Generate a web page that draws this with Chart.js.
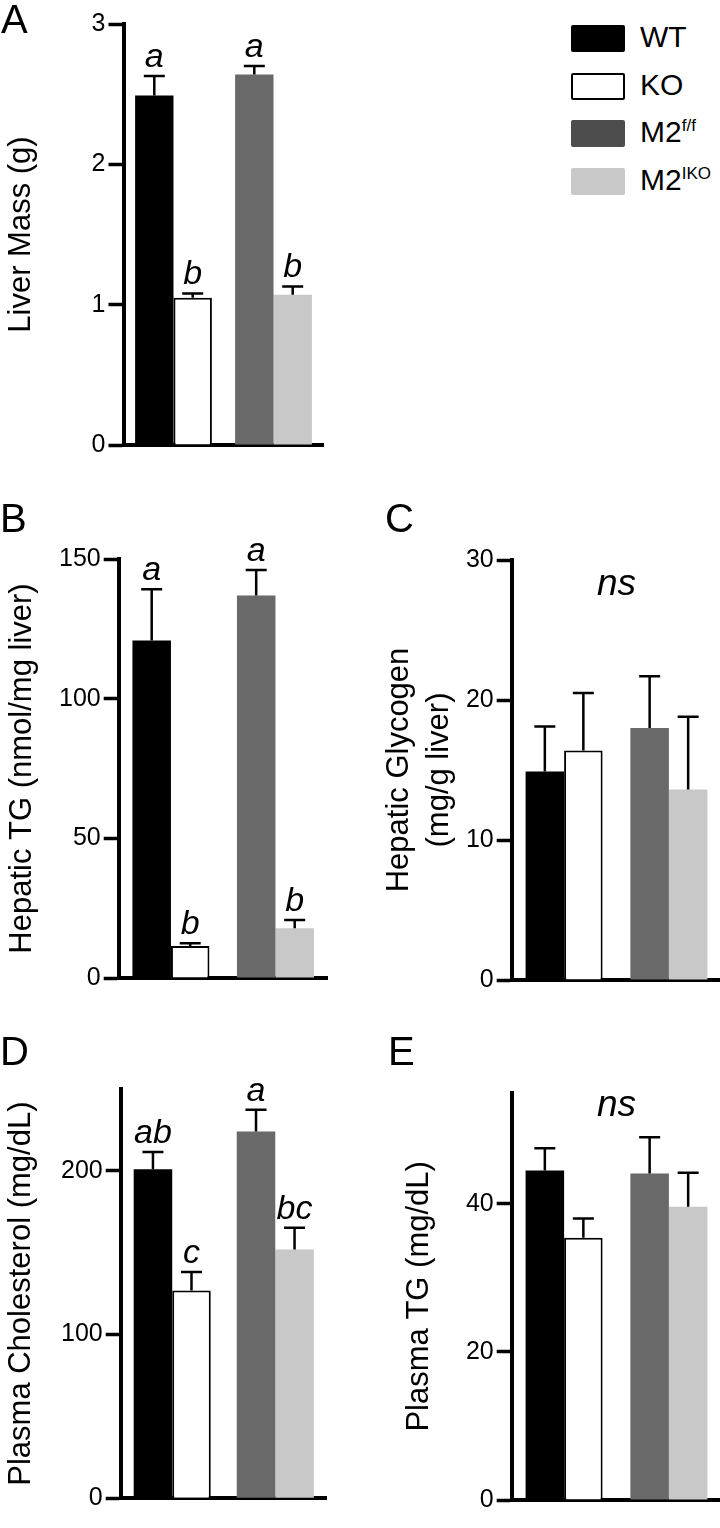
<!DOCTYPE html>
<html>
<head>
<meta charset="utf-8">
<script src="https://cdn.jsdelivr.net/npm/chart.js@4/dist/chart.umd.min.js"></script>
<style>
  html, body { margin: 0; padding: 0; background: #fff; }
  body { width: 720px; height: 1528px; position: relative; overflow: hidden;
         font-family: "Liberation Sans", Arial, sans-serif; color: #000; }
  canvas { position: absolute; }
  .tag { position: absolute; font-size: 40px; line-height: 40px; }
  .item { position: absolute; left: 571px; width: 149px; height: 30px; }
  .box { position: absolute; left: 0; top: 0; width: 54px; height: 27px; box-sizing: border-box; border-radius: 2px; }
  .txt { position: absolute; left: 69px; top: -3px; font-size: 30px; line-height: 30px; white-space: nowrap; }
  .txt sup { font-size: 17px; line-height: 17px; vertical-align: top; }
</style>
</head>
<body>
<canvas id="chartA" width="360" height="470" style="left:0;top:0"></canvas>
<canvas id="chartB" width="360" height="520" style="left:0;top:470px"></canvas>
<canvas id="chartC" width="370" height="520" style="left:360px;top:470px"></canvas>
<canvas id="chartD" width="360" height="538" style="left:0;top:990px"></canvas>
<canvas id="chartE" width="370" height="538" style="left:360px;top:990px"></canvas>

<div class="tag" style="left:1px;top:-1px">A</div>
<div class="tag" style="left:0;top:498px">B</div>
<div class="tag" style="left:385px;top:498px">C</div>
<div class="tag" style="left:0;top:1031px">D</div>
<div class="tag" style="left:388px;top:1031px">E</div>
<div id="legend"></div>

<script>
// groups and cohorts
const genotypes = ['WT', 'KO', 'M2f/f', 'M2IKO'];
const legendBase = ['WT', 'KO', 'M2', 'M2'];
const legendSup = ['', '', 'f/f', 'IKO'];
const cohorts = ['WT / KO', 'M2f/f / M2IKO'];
const cohortOf = [0, 0, 1, 1];

const barColors = ['#000000', '#ffffff', '#696969', '#c8c8c8'];
const legendColors = ['#000000', '#ffffff', '#4d4d4d', '#c8c8c8'];

// A: liver mass (g)
const liverMass = [2.49, 1.05, 2.64, 1.07];
const liverMassErr = [0.14, 0.03, 0.06, 0.06];
const liverMassSig = ['a', 'b', 'a', 'b'];
const liverMassTicks = [0, 1, 2, 3];

// B: hepatic TG (nmol/mg liver)
const hepaticTG = [120.8, 11.5, 136.9, 17.8];
const hepaticTGErr = [18.4, 0.9, 9.2, 3.0];
const hepaticTGSig = ['a', 'b', 'a', 'b'];
const hepaticTGTicks = [0, 50, 100, 150];

// C: hepatic glycogen (mg/g liver)
const glycogen = [14.9, 16.4, 18.0, 13.6];
const glycogenErr = [3.2, 4.1, 3.7, 5.2];
const glycogenTicks = [0, 10, 20, 30];

// D: plasma cholesterol (mg/dL)
const cholesterol = [201, 127, 224, 152];
const cholesterolErr = [10.5, 11.2, 13.3, 13.3];
const cholesterolSig = ['ab', 'c', 'a', 'bc'];
const cholesterolTicks = [0, 100, 200];

// E: plasma TG (mg/dL)
const plasmaTG = [44.5, 35.4, 44.1, 39.6];
const plasmaTGErr = [3.0, 2.6, 4.9, 4.6];
const plasmaTGTicks = [0, 20, 40];

const FONT = '"Liberation Sans", Arial, sans-serif';

const panels = [
    { id: 'chartA', values: liverMass, errors: liverMassErr, sig: liverMassSig, ticks: liverMassTicks, max: 3,
      title: 'Liver Mass (g)', titlePad: 2.4, axisX: 123.5, top: 24, bottom: 445, right: 323.5, groupPct: 0.768 },
    { id: 'chartB', values: hepaticTG, errors: hepaticTGErr, sig: hepaticTGSig, ticks: hepaticTGTicks, max: 150,
      title: 'Hepatic TG (nmol/mg liver)', titlePad: 3.4, axisX: 118.7, top: 89, bottom: 508, right: 327.7, groupPct: 0.737 },
    { id: 'chartC', values: glycogen, errors: glycogenErr, sig: null, ticks: glycogenTicks, max: 30,
      title: ['Hepatic Glycogen', '(mg/g liver)'], titleLH: 1.3, titlePad: 18.9, axisX: 151.7, top: 90, bottom: 510, right: 361.3,
      groupPct: 0.735, note: 'ns', noteOffset: 35 },
    { id: 'chartD', values: cholesterol, errors: cholesterolErr, sig: cholesterolSig, ticks: cholesterolTicks, max: 250,
      title: 'Plasma Cholesterol (mg/dL)', titlePad: 2.4, axisX: 120.7, top: 99, bottom: 508.3, right: 326.8, groupPct: 0.748 },
    { id: 'chartE', values: plasmaTG, errors: plasmaTGErr, sig: null, ticks: plasmaTGTicks, max: 55,
      title: 'Plasma TG (mg/dL)', titlePad: 40.4, axisX: 151.7, top: 102.7, bottom: 510, right: 361.3,
      groupPct: 0.735, note: 'ns', noteOffset: 23.3 }
];

// error bars, significance letters and the "ns" note
function marksPlugin(p) {
    return {
        id: 'marks',
        afterDatasetsDraw(chart) {
            const ctx = chart.ctx;
            const yScale = chart.scales.y;
            ctx.save();
            ctx.strokeStyle = '#000';
            ctx.fillStyle = '#000';
            ctx.lineWidth = 2.5;
            ctx.textAlign = 'center';
            ctx.textBaseline = 'alphabetic';
            ctx.font = 'italic 34px ' + FONT;
            chart.data.datasets.forEach((ds, i) => {
                const meta = chart.getDatasetMeta(i);
                ds.data.forEach((v, j) => {
                    if (v === null) return;
                    const bar = meta.data[j];
                    const top = yScale.getPixelForValue(v + ds.err);
                    ctx.beginPath();
                    ctx.moveTo(bar.x, bar.y);
                    ctx.lineTo(bar.x, top);
                    ctx.moveTo(bar.x - 10.5, top);
                    ctx.lineTo(bar.x + 10.5, top);
                    ctx.stroke();
                    if (ds.sig) ctx.fillText(ds.sig, bar.x, top - 9);
                });
            });
            if (p.note) {
                const xs = chart.scales.x;
                ctx.font = 'italic 37px ' + FONT;
                ctx.fillText(p.note, (xs.left + xs.right) / 2, chart.chartArea.top + p.noteOffset);
            }
            ctx.restore();
        }
    };
}

function makePanel(p) {
    const canvas = document.getElementById(p.id);
    const datasets = genotypes.map((g, i) => ({
        label: g,
        data: cohorts.map((c, j) => cohortOf[i] === j ? p.values[i] : null),
        err: p.errors[i],
        sig: p.sig ? p.sig[i] : '',
        backgroundColor: barColors[i],
        borderColor: '#000',
        borderWidth: i === 1 ? 2 : 0,
        barPercentage: 1,
        categoryPercentage: p.groupPct,
        skipNull: true
    }));

    return new Chart(canvas, {
        type: 'bar',
        data: { labels: cohorts, datasets: datasets },
        options: {
            responsive: false,
            animation: false,
            devicePixelRatio: 1,
            events: [],
            layout: {
                padding: { left: 0, top: p.top, right: canvas.width - p.right, bottom: canvas.height - p.bottom }
            },
            plugins: { legend: { display: false }, tooltip: { enabled: false } },
            scales: {
                x: {
                    offset: true,
                    grid: { display: false },
                    ticks: { display: false },
                    border: { display: true, color: '#000', width: 4 },
                    afterFit: s => { s.height = 0; }
                },
                y: {
                    min: 0,
                    max: p.max,
                    afterBuildTicks: s => { s.ticks = p.ticks.map(v => ({ value: v })); },
                    afterFit: s => { s.width = p.axisX; s.paddingTop = 0; s.paddingBottom = 0; },
                    ticks: { color: '#000', padding: 3, font: { size: 25, family: FONT } },
                    grid: { drawOnChartArea: false, drawTicks: true, tickLength: 15, tickWidth: 3.5, tickColor: '#000' },
                    border: { display: true, color: '#000', width: 4 },
                    title: {
                        display: true,
                        text: p.title,
                        color: '#000',
                        font: { size: 31, family: FONT, lineHeight: p.titleLH || 1.2 },
                        padding: { top: p.titlePad, bottom: 0 }
                    }
                }
            }
        },
        plugins: [marksPlugin(p)]
    });
}

panels.forEach(makePanel);

// legend
const legend = document.getElementById('legend');
genotypes.forEach((g, i) => {
    const item = document.createElement('div');
    item.className = 'item';
    item.style.top = (25 + i * 47.7) + 'px';
    const box = document.createElement('div');
    box.className = 'box';
    box.style.background = legendColors[i];
    if (i === 1) box.style.border = '2px solid #000';
    const txt = document.createElement('div');
    txt.className = 'txt';
    txt.textContent = legendBase[i];
    if (legendSup[i]) {
        const sup = document.createElement('sup');
        sup.textContent = legendSup[i];
        txt.appendChild(sup);
    }
    item.appendChild(box);
    item.appendChild(txt);
    legend.appendChild(item);
});
</script>
</body>
</html>
